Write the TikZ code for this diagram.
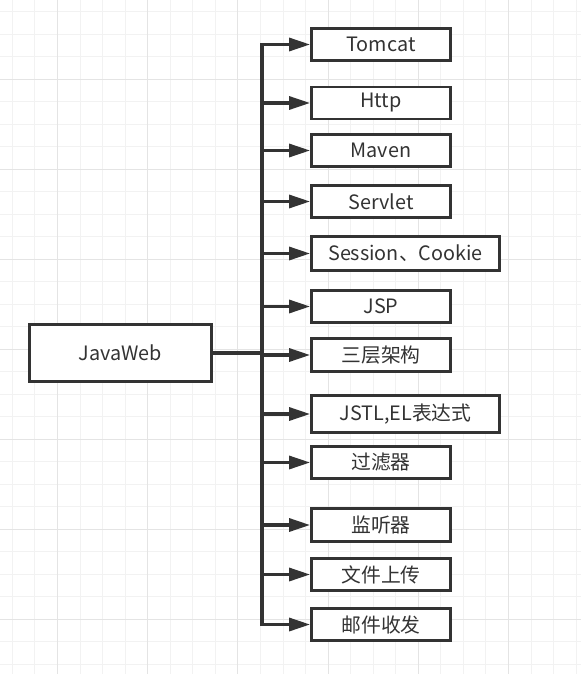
\documentclass[tikz,border=0pt]{standalone}
\usepackage{fontspec}
\setmainfont{Noto Sans CJK SC}
\usetikzlibrary{arrows.meta}
\definecolor{ink}{HTML}{333333}
\definecolor{gridminor}{HTML}{F2F2F2}
\definecolor{gridmajor}{HTML}{E4E4E4}
\tikzset{
  box/.style={draw=ink, line width=2.8pt, fill=white, text=ink, inner sep=0pt,
    font=\fontsize{19.8pt}{22pt}\selectfont, minimum width=139pt, minimum height=32pt},
  widebox/.style={box, minimum width=188pt},
  conn/.style={draw=ink, line width=3.2pt},
  arr/.style={conn, -{Triangle[length=21pt,width=13pt]}},
}
\begin{document}
\begin{tikzpicture}[x=1pt,y=-1pt]
\useasboundingbox (0,0) rectangle (581,674);
\fill[white] (0,0) rectangle (581,674);
% grid
\foreach \k in {0,...,25} {\draw[gridminor, line width=1pt] ({12.4+22.55*\k},0) -- ({12.4+22.55*\k},674);}
\foreach \k in {0,...,29} {\draw[gridminor, line width=1pt] (0,{11.7+22.5*\k}) -- (581,{11.7+22.5*\k});}
\foreach \k in {2,6,...,22} {\draw[gridmajor, line width=1pt] ({12.4+22.55*\k},0) -- ({12.4+22.55*\k},674);}
\foreach \k in {3,7,...,27} {\draw[gridmajor, line width=1pt] (0,{11.7+22.5*\k}) -- (581,{11.7+22.5*\k});}

% nodes
\node[box, minimum width=182pt, minimum height=57pt] (java) at (120.5,353) {JavaWeb};
\node[box] (tomcat) at (381,44.5) {Tomcat};
\node[box] (http) at (381,103) {Http};
\node[box] (maven) at (381,150.5) {Maven};
\node[box] (servlet) at (381,201.5) {Servlet};
\node[widebox, minimum height=34pt] (session) at (405.5,253.5) {Session、Cookie};
\node[box] (jsp) at (381,306.5) {JSP};
\node[box, minimum height=33pt] (three) at (381,355) {三层架构};
\node[widebox, minimum height=37pt] (jstl) at (405.5,414) {JSTL,EL表达式};
\node[box] (filter) at (381,462.5) {过滤器};
\node[box, minimum height=33pt] (listener) at (381,525) {监听器};
\node[box] (upload) at (381,574.5) {文件上传};
\node[box] (mail) at (381,624.5) {邮件收发};

\coordinate (trunk) at (262,0);
\draw[conn, line cap=rect] (trunk |- tomcat.west) -- (trunk |- mail.west);
\draw[conn, line width=4pt] (java.east) -- (trunk |- java.east);
\foreach \n in {tomcat,http,maven,servlet,session,jsp,three,jstl,filter,listener,upload,mail}
  {\draw[arr] (trunk |- \n.west) -- (\n.west);}
\end{tikzpicture}
\end{document}
